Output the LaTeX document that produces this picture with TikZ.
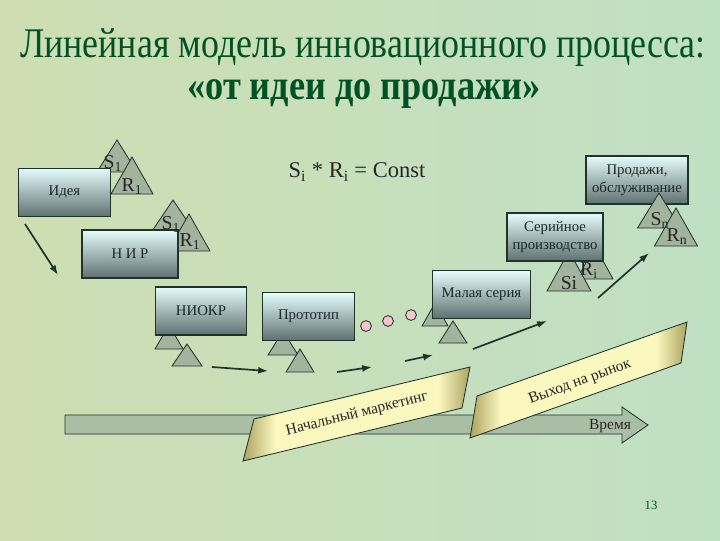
\documentclass[tikz,border=0pt]{standalone}
\usepackage{fontspec}
\setmainfont{Liberation Serif}
\usepackage{graphicx}
\usetikzlibrary{arrows.meta}

\definecolor{bgleft}{RGB}{206,222,178}
\definecolor{bgright}{RGB}{192,224,196}
\definecolor{edge}{RGB}{30,52,42}
\definecolor{boxtop}{RGB}{230,252,252}
\definecolor{boxbot}{RGB}{96,112,112}
\definecolor{boxtext}{RGB}{25,40,40}
\definecolor{trifill}{RGB}{163,180,158}
\definecolor{timefill}{RGB}{170,190,166}
\definecolor{bandlight}{RGB}{250,248,190}
\definecolor{banddark}{RGB}{172,162,98}
\definecolor{pinkdot}{RGB}{250,196,206}
\definecolor{titlegreen}{RGB}{0,82,36}

% path box is mapped onto 25bp..75bp of the shading
\pgfdeclarehorizontalshading{bandshade}{100bp}{color(0bp)=(banddark); color(25bp)=(banddark); color(32bp)=(bandlight); color(68bp)=(bandlight); color(75bp)=(banddark); color(100bp)=(banddark)}

\begin{document}
\begin{tikzpicture}[
    x=0.025cm, y=-0.025cm,
    % --- BASE STYLES ---
    box/.style={rectangle, draw=edge, line width=0.8pt, top color=boxtop, bottom color=boxbot, minimum width=2.3cm, minimum height=1.2cm, align=center, font=\fontsize{10.5}{13}\selectfont, text=boxtext, inner sep=2pt},
    tri/.style={draw=edge, fill=trifill, line width=0.6pt},
    trilabel/.style={font=\fontsize{14}{16}\selectfont, text=black!85, inner sep=0pt},
    flow/.style={draw=edge, line width=1.2pt, -{Latex[length=7pt,width=5pt]}},
    dot/.style={circle, draw=edge, fill=pinkdot, minimum size=0.27cm, inner sep=0pt, line width=0.6pt},
    band/.style={draw=edge, line width=0.6pt, shading=bandshade},
    bandtext/.style={font=\fontsize{11}{13}\selectfont, text=black!85, inner sep=0pt},
    title/.style={font=\fontsize{30}{34}\selectfont, text=titlegreen, inner sep=0pt}
]

% ==========================================
% BACKGROUND AND TITLE
% ==========================================
\shade[left color=bgleft, right color=bgright] (0,0) rectangle (720,540);
\useasboundingbox (0,0) rectangle (720,540);

\node[title] (title1) at (363,48) {\scalebox{0.85}[1]{Линейная модель инновационного процесса:}};
\node[title, font=\fontsize{30}{34}\selectfont\bfseries] (title2) at (364,94) {\scalebox{0.86}[1]{«от идеи до продажи»}};

\node[trilabel, font=\fontsize{16}{18}\selectfont] (formula) at (357,172) {S\textsubscript{i} * R\textsubscript{i} = Const};

% ==========================================
% TRIANGLES BEHIND THE BOXES (x/y apex, half base, height)
% ==========================================
\foreach \x/\y/\w/\h in {117/140/20/32, 132/157/21/37,
                         173/200/27/40, 189/214/21/37,
                         169/325/14/24, 187/344/15/22,
                         283/331/15/24, 300/349/14/23,
                         435/303/13/23, 453/321/14/22,
                         595/246/18/33, 569/251/22/40} {
    \draw[tri] (\x,\y) -- ++(\w,\h) -- ++(-2*\w,0) -- cycle;
}

% ==========================================
% PROCESS STAGES
% ==========================================
\node[box, minimum width=2.28cm, minimum height=1.22cm] (idea) at (64.5,192.5) {Идея};
\node[box, minimum width=2.4cm] (nir) at (130,254) {Н И Р};
\node[box, minimum width=2.28cm] (niokr) at (201,311) {НИОКР};
\node[box, minimum width=2.28cm, minimum height=1.18cm] (proto) at (308.5,316.5) {Прототип};
\node[box, minimum width=2.43cm, minimum height=1.18cm] (small) at (481.5,294.5) {Малая серия};
\node[box, minimum width=2.4cm] (serial) at (555,237) {Серийное\\производство};
\node[box, minimum width=2.55cm] (sales) at (637,180) {Продажи,\\обслуживание};

% Triangles in front of the last stage
\draw[tri] (659,193) -- ++(21.5,35) -- ++(-43,0) -- cycle;
\draw[tri] (676,208) -- ++(21.5,38) -- ++(-43,0) -- cycle;

% Triangle labels
\node[trilabel] (s_idea) at (113,163) {S\textsubscript{1}};
\node[trilabel] (r_idea) at (132,187) {R\textsubscript{1}};
\node[trilabel] (s_nir) at (171,224) {S\textsubscript{1}};
\node[trilabel] (r_nir) at (190,242) {R\textsubscript{1}};
\node[trilabel] (s_serial) at (569,283) {Si};
\node[trilabel] (r_serial) at (589,271) {R\textsubscript{i}};
\node[trilabel] (s_sales) at (660,220) {S\textsubscript{n}};
\node[trilabel] (r_sales) at (677,237) {R\textsubscript{n}};

% ==========================================
% FLOW ARROWS AND DOTS
% ==========================================
\coordinate (f1a) at (25,224);   \coordinate (f1b) at (58,275);
\coordinate (f2a) at (212,367);  \coordinate (f2b) at (268,371);
\coordinate (f3a) at (337,372);  \coordinate (f3b) at (372,367);
\coordinate (f4a) at (405,361);  \coordinate (f4b) at (433,355);
\coordinate (f5a) at (473,349);  \coordinate (f5b) at (547,321);
\coordinate (f6a) at (598,298);  \coordinate (f6b) at (649,253);
\foreach \n in {1,...,6} {
    \draw[flow] (f\n a) -- (f\n b);
}

\foreach \n/\x/\y in {1/366/326, 2/388/321, 3/411/315} {
    \node[dot] (dot\n) at (\x,\y) {};
}

% ==========================================
% TIME AXIS AND MARKETING BANDS
% ==========================================
\draw[draw=edge, fill=timefill, line width=0.6pt] (65,415) -- (622,415) -- (622,407) -- (648,425) -- (622,443) -- (622,434) -- (65,434) -- cycle;
\node[bandtext] (time_lbl) at (610,426) {Время};

\shade[band] (254,419) -- (470,367) -- (462,408) -- (243,461) -- cycle;
\node[bandtext, rotate=14] (mkt_lbl) at (357,414) {Начальный маркетинг};

\shade[band] (477,396) -- (687,322) -- (681,363) -- (470,438) -- cycle;
\node[bandtext, rotate=20] (market_lbl) at (580,382) {Выход на рынок};

\node[font=\fontsize{9}{11}\selectfont, text=titlegreen] (page) at (651,505) {13};

\end{tikzpicture}
\end{document}
